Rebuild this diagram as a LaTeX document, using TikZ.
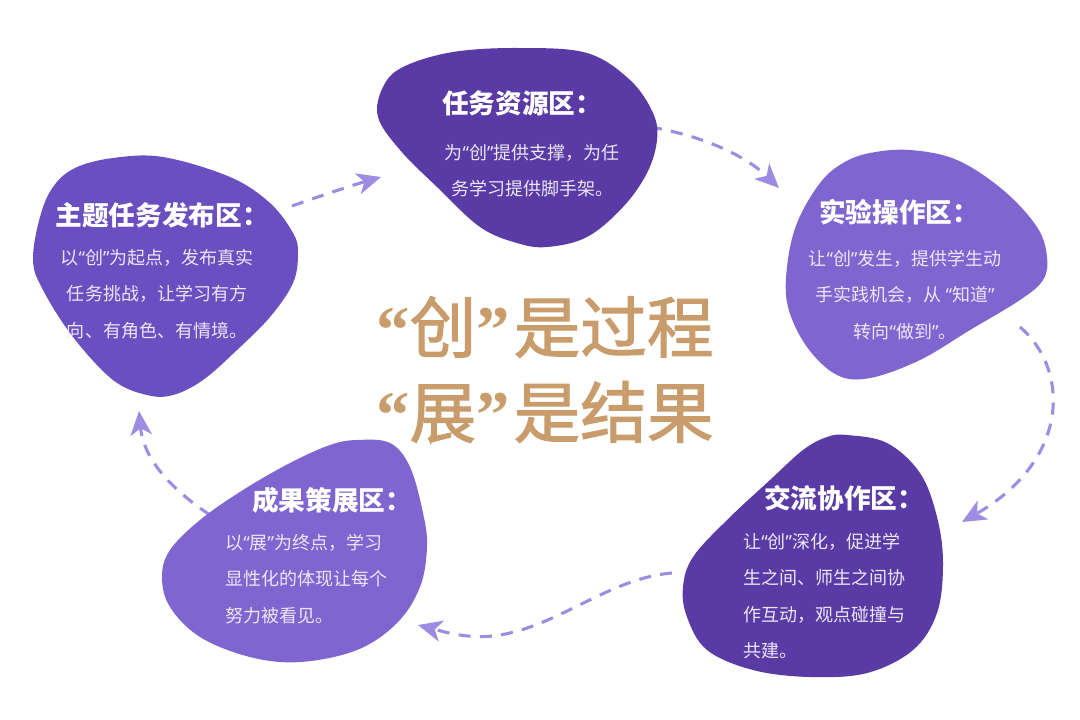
\documentclass[tikz,border=0pt]{standalone}
\usepackage{fontspec}
\newfontfamily\cjk{Noto Sans CJK SC}
\newfontfamily\cjkmid[FakeBold=1.6]{Noto Sans CJK SC}
\newfontfamily\qfont{Noto Sans}
\newfontfamily\bigq{Liberation Serif}
\newcommand\myoq{{\qfont “}}
\newcommand\mycq{{\qfont ”}}
\newcommand\bigoq{{\bigq\bfseries “}}
\newcommand\bigcq{{\bigq\bfseries ”}\hspace{3pt}}
\usetikzlibrary{arrows.meta}
\definecolor{pA}{HTML}{6A4FC1}
\definecolor{pB}{HTML}{5A3AA5}
\definecolor{pC}{HTML}{7F65CF}
\definecolor{arr}{HTML}{9D8CE2}
\definecolor{gold}{HTML}{C89C6B}
\definecolor{bodytxt}{HTML}{ECE6F8}
\tikzset{
  blobshape/.style={draw=none},
  ttl/.style={text=white, font=\cjk\bfseries\fontsize{20}{22}\selectfont, inner sep=0pt},
  bodyc/.style={text=bodytxt, font=\cjk\fontsize{13.5}{27.2}\selectfont, inner sep=0pt, align=center},
  bodyl/.style={text=bodytxt, font=\cjk\fontsize{13.5}{27.3}\selectfont, inner sep=0pt, align=left},
  flow/.style={draw=arr, line width=2.3pt, dash pattern=on 9pt off 7pt,
    -{Stealth[length=18pt,width=16pt,inset=5pt]}},
  big/.style={text=gold, font=\cjkmid\fontsize{50}{64}\selectfont, inner sep=0pt, align=left},
}
\begin{document}
\begin{tikzpicture}[x=0.75pt,y=-0.75pt]
\useasboundingbox (0,0) rectangle (1080,719);
\fill[white] (0,0) rectangle (1080,719);

% connector end points
\coordinate (a1s) at (292,206);
\coordinate (a1e) at (381,177);
\coordinate (a2s) at (650,127);
\coordinate (a2e) at (779,188);
\coordinate (a3s) at (1020,327);
\coordinate (a3e) at (962,522);
\coordinate (a4s) at (672,573);
\coordinate (a4e) at (418,625);
\coordinate (a5s) at (210,515);
\coordinate (a5e) at (139,411);

% connectors
\draw[flow] (a1s) .. controls (320,196) and (350,186) .. (a1e);
\draw[flow] (a2s) .. controls (700,135) and (745,155) .. (a2e);
\draw[flow] (a3s) .. controls (1070,370) and (1070,460) .. (a3e);
\draw[flow] (a4s) .. controls (610,578) and (560,625) .. (500,635) .. controls (470,640) and (445,632) .. (a4e);
\draw[flow] (a5s) .. controls (165,485) and (143,455) .. (a5e);

% blobs
\fill[pA] plot[smooth cycle, tension=0.6] coordinates {(113,158) (163,157) (230,177) (270,203) (293,233) (298,253) (293,283) (270,317) (237,350) (203,380) (173,395) (147,395) (113,380) (73,337) (43,290) (33,260) (40,217) (53,187) (75,168)};
\fill[pB] plot[smooth cycle, tension=0.6] coordinates {(383,87) (403,67) (453,52) (520,48) (587,53) (630,80) (653,113) (657,140) (647,173) (623,207) (587,237) (547,247) (517,243) (480,227) (437,187) (400,150) (378,117)};
\fill[pC] plot[smooth cycle, tension=0.6] coordinates {(870,153) (910,150) (957,160) (1003,190) (1037,227) (1047,257) (1043,280) (1020,300) (970,330) (920,360) (870,378) (837,375) (807,347) (788,307) (787,267) (797,223) (820,183) (843,163)};
\fill[pB] plot[smooth cycle, tension=0.6] coordinates {(847,435) (887,443) (920,473) (937,517) (943,563) (937,613) (913,650) (867,673) (810,677) (753,670) (707,650) (687,617) (683,587) (693,557) (727,520) (770,480) (803,450) (827,437)};
\fill[pC] plot[smooth cycle, tension=0.6] coordinates {(357,440) (390,443) (410,467) (423,513) (427,547) (420,587) (397,623) (357,650) (300,662) (250,657) (200,637) (170,607) (162,577) (170,550) (200,520) (243,490) (290,463) (330,445)};

% texts
\node[ttl] (t1) at (162,215) {主题任务发布区：};
\node[bodyc, anchor=north] (b1) at (157,249) {以\myoq 创\mycq 为起点，发布真实\\任务挑战，让学习有方\\向、有角色、有情境。};

\node[ttl] (t2) at (522,103) {任务资源区：};
\node[bodyc, anchor=north] (b2) at (532,144) {为\myoq 创\mycq 提供支撑，为任\\务学习提供脚手架。};

\node[ttl] (t3) at (899,212) {实验操作区：};
\node[bodyc, anchor=north] (b3) at (905,250) {让\myoq 创\mycq 发生，提供学生动\\手实践机会，从 \myoq 知道\mycq\\转向\myoq 做到\mycq 。};

\node[ttl] (t4) at (844,498) {交流协作区：};
\node[bodyl, anchor=north west] (b4) at (743,533) {让\myoq 创\mycq 深化，促进学\\生之间、师生之间协\\作互动，观点碰撞与\\共建。};

\node[ttl] (t5) at (332,500) {成果策展区：};
\node[bodyl, anchor=north west] (b5) at (225,534) {以\myoq 展\mycq 为终点，学习\\显性化的体现让每个\\努力被看见。};

\node[big, anchor=west] (c1) at (376,327) {\bigoq 创\bigcq 是过程};
\node[big, anchor=west] (c2) at (376,412) {\bigoq 展\bigcq 是结果};
\end{tikzpicture}
\end{document}
